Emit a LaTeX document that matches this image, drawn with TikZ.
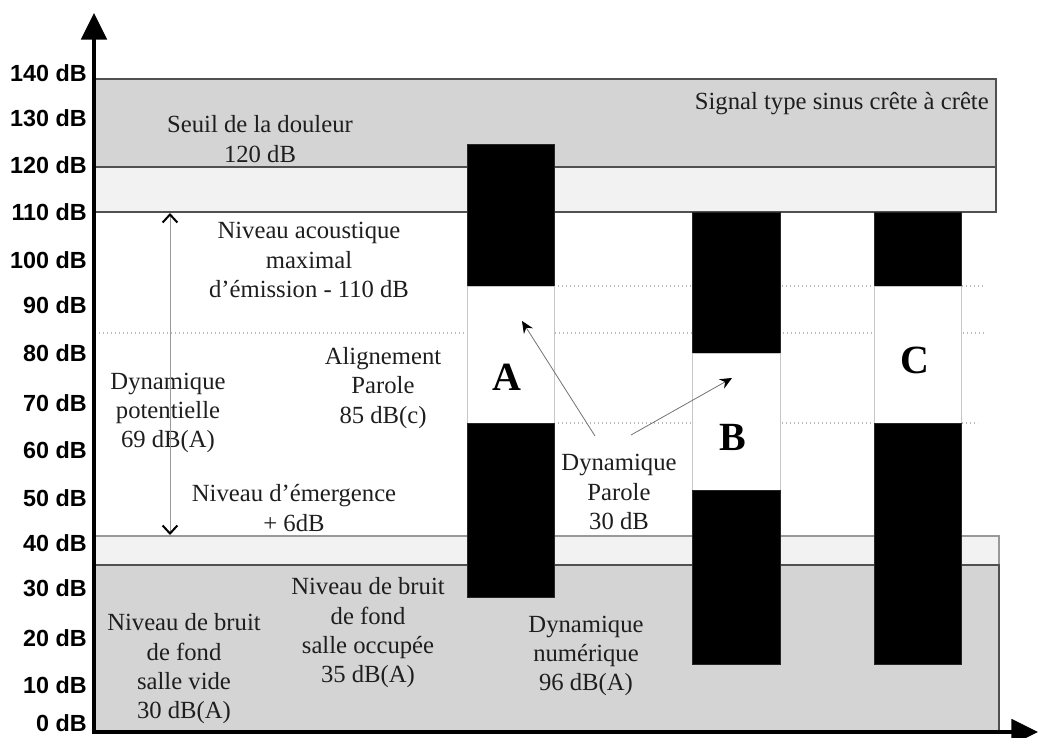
\documentclass[tikz,border=0pt]{standalone}
\usepackage{fontspec}
\setmainfont{Liberation Serif}
\newfontfamily\axisfont{Liberation Sans}
\usetikzlibrary{arrows.meta}
\definecolor{bandgray}{HTML}{D4D4D4}
\definecolor{bandlight}{HTML}{F2F2F2}
\definecolor{edgegray}{HTML}{505050}
\definecolor{txt}{HTML}{1E1E1E}
\begin{document}
\begin{tikzpicture}[x=0.75pt,y=-0.75pt,
  lbl/.style={font=\fontsize{18.5}{22}\selectfont, text=txt, align=center, inner sep=0pt},
  axlbl/.style={font=\axisfont\bfseries\fontsize{17.5}{17.5}\selectfont, anchor=east, inner sep=0pt},
  barletter/.style={font=\bfseries\fontsize{30}{30}\selectfont, inner sep=0pt},
  blackseg/.style={fill=black, draw=black!85, line width=0.6pt},
  whiteseg/.style={fill=white, draw=black!22, line width=0.7pt},
  dotline/.style={draw=black!28, dotted, line width=1pt},
  band/.style={draw=edgegray, line width=1.3pt},
  axisline/.style={line width=3pt, -{Triangle[length=20pt,width=19pt]}},
  pointer/.style={draw=black!55, line width=0.6pt, -{Stealth[length=9pt,width=8pt,inset=3pt,color=black]}},
  dblarrow/.style={draw=black!40, line width=0.6pt,
    {Straight Barb[length=6pt,width=11pt,line width=1.5pt,color=black]}-{Straight Barb[length=6pt,width=11pt,line width=1.5pt,color=black]}}
]
\useasboundingbox (0,0) rectangle (1040,738);

% bands
\path[band, fill=bandgray] (95,79) rectangle (996,167);
\path[band, fill=bandlight] (95,167) rectangle (996,212);
\path[draw=black!40, line width=1pt, fill=bandlight] (95,536) rectangle (999,565);
\path[band, fill=bandgray] (95,565) rectangle (999,732);

% dotted guide lines
\draw[dotline] (95,333) -- (985,333);
\draw[dotline] (554,286) -- (985,286);
\draw[dotline] (554,423) -- (978,423);

% bar A
\path[blackseg] (467,144) rectangle (554,286);
\path[whiteseg] (467,286) rectangle (554,423);
\path[blackseg] (467,423) rectangle (554,597);
% bar B
\path[blackseg] (692,212) rectangle (780,353);
\path[whiteseg] (692,353) rectangle (780,490);
\path[blackseg] (692,490) rectangle (780,664);
% bar C
\path[blackseg] (874,212) rectangle (961,286);
\path[whiteseg] (874,286) rectangle (961,423);
\path[blackseg] (874,423) rectangle (961,664);

% axes
\coordinate (O) at (94,732);
\coordinate (ytop) at (94,13);
\coordinate (xend) at (1038,732);
\draw[axisline] (94,733.5) -- (ytop);
\draw[axisline] (92.5,732) -- (xend);

% axis labels
\foreach \v/\yy in {140/73,130/118,120/165,110/212,100/260,90/305,80/353,70/403,60/450,50/498,40/543,30/588,20/638,10/685,0/723}
  \node[axlbl] (lab\v) at (87,\yy) {\v\ dB};

% texts
\node[lbl] (seuil) at (260,139) {Seuil de la douleur\\120 dB};
\node[lbl, anchor=east] (signal) at (989,104) {Signal type sinus crête à crête};
\node[lbl] (niveauac) at (309,260) {Niveau acoustique\\maximal\\d'émission - 110 dB};
\node[lbl] (dynpot) at (168,413) {Dynamique\\potentielle\\69 dB(A)};
\node[lbl] (align) at (383,388) {Alignement\\Parole\\85 dB(c)};
\node[lbl] (emerg) at (294,508) {Niveau d'émergence\\+ 6dB};
\node[lbl] (bruitocc) at (368,633) {Niveau de bruit\\de fond\\salle occupée\\35 dB(A)};
\node[lbl] (bruitvide) at (184,669) {Niveau de bruit\\de fond\\salle vide\\30 dB(A)};
\node[lbl] (dynparole) at (619,492) {Dynamique\\Parole\\30 dB};
\node[lbl] (dynnum) at (586,656) {Dynamique\\numérique\\96 dB(A)};

\node[barletter] (lA) at (507,377) {A};
\node[barletter] (lB) at (733,437) {B};
\node[barletter] (lC) at (915,360) {C};

% double arrow: dynamique potentielle
\coordinate (dtop) at (170,213);
\coordinate (dbot) at (170,535);
\draw[dblarrow] (dtop) -- (dbot);

% pointers from Dynamique Parole
\coordinate (pA0) at (595,436);
\coordinate (pA1) at (522,321);
\coordinate (pB0) at (631,435);
\coordinate (pB1) at (732,378);
\draw[pointer] (pA0) -- (pA1);
\draw[pointer] (pB0) -- (pB1);
\end{tikzpicture}
\end{document}
